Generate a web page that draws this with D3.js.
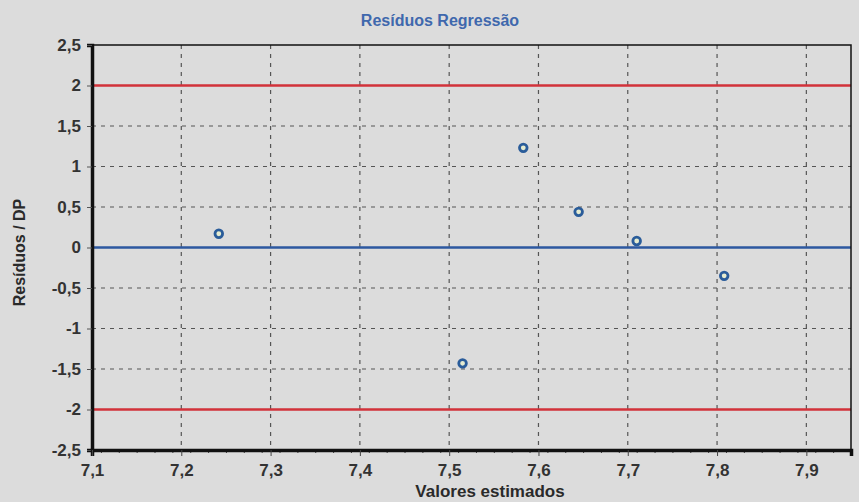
<!DOCTYPE html>
<html>
<head>
<meta charset="utf-8">
<script src="https://cdn.jsdelivr.net/npm/d3@7.9.0/dist/d3.min.js"></script>
<style>
  body { margin: 0; background: #dcdcdc; }
  svg { display: block; font-family: "Liberation Sans", Arial, sans-serif; }
</style>
</head>
<body>
<div id="chart"></div>
<script>
// ---------------- 데이터 ----------------
const fittedValues = [7.242, 7.515, 7.583, 7.645, 7.71, 7.808];
const residualsSD = [0.17, -1.43, 1.23, 0.44, 0.08, -0.35];
const limitLines = [2, -2];
const xTicks = [7.1, 7.2, 7.3, 7.4, 7.5, 7.6, 7.7, 7.8, 7.9];
const yTicks = [2.5, 2, 1.5, 1, 0.5, 0, -0.5, -1, -1.5, -2, -2.5];

const width = 859, height = 502;
const margin = {top: 45, right: 8, bottom: 52, left: 92};
const w = width - margin.left - margin.right;
const h = height - margin.top - margin.bottom;

const fmt = v => String(v).replace(".", ",");

const svg = d3.select("#chart").append("svg")
  .attr("width", width).attr("height", height);

svg.append("rect").attr("width", width).attr("height", height).attr("fill", "#dcdcdc");

const g = svg.append("g").attr("transform", `translate(${margin.left},${margin.top})`);

const x = d3.scaleLinear().domain([7.1, 7.95]).range([0, w]);
const y = d3.scaleLinear().domain([-2.5, 2.5]).range([h, 0]);

// 그리드
g.selectAll("line.vgrid").data(xTicks.slice(1)).enter().append("line")
  .attr("class", "vgrid")
  .attr("x1", d => x(d)).attr("x2", d => x(d))
  .attr("y1", 0).attr("y2", h)
  .attr("stroke", "#555").attr("stroke-width", 1.2).attr("stroke-dasharray", "4,5");

g.selectAll("line.hgrid").data(yTicks.filter(d => Math.abs(d) !== 2.5 && d !== 0 && Math.abs(d) !== 2)).enter().append("line")
  .attr("class", "hgrid")
  .attr("x1", 0).attr("x2", w)
  .attr("y1", d => y(d)).attr("y2", d => y(d))
  .attr("stroke", "#555").attr("stroke-width", 1.2).attr("stroke-dasharray", "4,5");

// 기준선
g.selectAll("line.limit").data(limitLines).enter().append("line")
  .attr("class", "limit")
  .attr("x1", 0).attr("x2", w)
  .attr("y1", d => y(d)).attr("y2", d => y(d))
  .attr("stroke", "#d2323a").attr("stroke-width", 2.5);

g.append("line")
  .attr("x1", 0).attr("x2", w)
  .attr("y1", y(0)).attr("y2", y(0))
  .attr("stroke", "#2d58a0").attr("stroke-width", 2.5);

// 테두리
g.append("rect").attr("width", w).attr("height", h)
  .attr("fill", "none").attr("stroke", "#111").attr("stroke-width", 1.5);

// Y축
const yAxis = g.append("g")
  .call(d3.axisLeft(y).tickValues(yTicks).tickFormat(fmt).tickSize(5).tickPadding(6));
yAxis.select(".domain").attr("stroke", "#111").attr("stroke-width", 3.5);
yAxis.selectAll(".tick line").attr("stroke", "#555");
yAxis.selectAll("text").attr("font-size", "17px").attr("font-weight", "bold").attr("fill", "#333");

// X축 (보조 눈금)
g.append("g").attr("transform", `translate(0,${h})`)
  .call(d3.axisBottom(x).tickValues(d3.range(711, 795, 2).map(d => d / 100)).tickFormat("").tickSize(3))
  .call(a => a.select(".domain").remove())
  .selectAll(".tick line").attr("stroke", "#444");

const xAxis = g.append("g").attr("transform", `translate(0,${h})`)
  .call(d3.axisBottom(x).tickValues(xTicks).tickFormat(fmt).tickSize(6).tickPadding(8));
xAxis.select(".domain").attr("stroke", "#111").attr("stroke-width", 3.5);
xAxis.selectAll(".tick line").attr("stroke", "#444");
xAxis.selectAll("text").attr("font-size", "17px").attr("font-weight", "bold").attr("fill", "#333");

// 점
g.selectAll("circle.pt").data(fittedValues.map((v, i) => [v, residualsSD[i]])).enter().append("circle")
  .attr("class", "pt")
  .attr("cx", d => x(d[0])).attr("cy", d => y(d[1]))
  .attr("r", 3.8)
  .attr("fill", "#e6ecd0").attr("stroke", "#2a5c9a").attr("stroke-width", 2.8);

// 제목, 라벨
svg.append("text").attr("x", 440).attr("y", 26).attr("text-anchor", "middle")
  .attr("font-size", "16px").attr("font-weight", "bold").attr("fill", "#3f68ad")
  .text("Resíduos Regressão");

svg.append("text").attr("x", 490).attr("y", 497).attr("text-anchor", "middle")
  .attr("font-size", "17px").attr("font-weight", "bold").attr("fill", "#2a2a2a")
  .text("Valores estimados");

svg.append("text").attr("transform", `translate(25,${margin.top + h / 2 + 5}) rotate(-90)`)
  .attr("text-anchor", "middle")
  .attr("font-size", "16px").attr("font-weight", "bold").attr("fill", "#2a2a2a")
  .text("Resíduos / DP");
</script>
</body>
</html>
